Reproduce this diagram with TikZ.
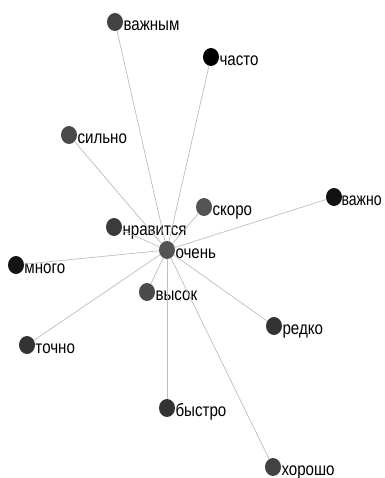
\documentclass[tikz,border=0pt]{standalone}
\usepackage{fontspec}
\setmainfont{Liberation Sans}
\usepackage{tikz}
\usetikzlibrary{shapes.geometric}

\newcommand{\narrowtext}[1]{\scalebox{0.84}[1]{#1}}

\begin{document}
\begin{tikzpicture}[x=1pt, y=-1pt,
    word/.style = {ellipse, draw=none, inner sep=0pt, minimum width=16pt, minimum height=18pt},
    wlabel/.style = {anchor=base west, inner sep=0pt, xshift=2.5pt, yshift=-1.5pt, font=\fontsize{18}{18}\selectfont},
    edge/.style = {draw=black!26, line width=0.7pt}
]
\useasboundingbox (0,0) rectangle (384,478);

% Centre word
\node (W0) [word, fill=black!67, label={[wlabel]south east:\narrowtext{очень}}] at (167, 250) {};

% Upper words
\node (W1) [word, fill=black!74, label={[wlabel]south east:\narrowtext{важным}}] at (115, 22) {};
\node (W2) [word, fill=black, label={[wlabel]south east:\narrowtext{часто}}] at (211, 57) {};
\node (W3) [word, fill=black!71, label={[wlabel]south east:\narrowtext{сильно}}] at (69, 135) {};
\node (W4) [word, fill=black!67, label={[wlabel]south east:\narrowtext{скоро}}] at (204, 207) {};
\node (W5) [word, fill=black!93, label={[wlabel, xshift=-1pt]south east:\scalebox{0.78}[1]{важно}}] at (334, 197) {};
\node (W6) [word, fill=black!77, label={[wlabel]south east:\narrowtext{нравится}}] at (114, 227) {};

% Lower words
\node (W7) [word, fill=black!92, label={[wlabel]south east:\narrowtext{много}}] at (16, 265) {};
\node (W8) [word, fill=black!71, label={[wlabel]south east:\narrowtext{высок}}] at (147, 292) {};
\node (W9) [word, fill=black!80, label={[wlabel]south east:\narrowtext{редко}}] at (274, 326) {};
\node (W10) [word, fill=black!80, label={[wlabel]south east:\narrowtext{точно}}] at (27, 345) {};
\node (W11) [word, fill=black!80, label={[wlabel]south east:\narrowtext{быстро}}] at (167, 408) {};
\node (W12) [word, fill=black!74, label={[wlabel]south east:\narrowtext{хорошо}}] at (273, 467) {};

% Links
\draw [edge] (W0) -- (W1);
\draw [edge] (W0) -- (W2);
\draw [edge] (W0) -- (W3);
\draw [edge] (W0) -- (W4);
\draw [edge] (W0) -- (W5);
\draw [edge] (W0) -- (W6);
\draw [edge] (W0) -- (W7);
\draw [edge] (W0) -- (W8);
\draw [edge] (W0) -- (W9);
\draw [edge] (W0) -- (W10);
\draw [edge] (W0) -- (W11);
\draw [edge] (W0) -- (W12);

\end{tikzpicture}
\end{document}
